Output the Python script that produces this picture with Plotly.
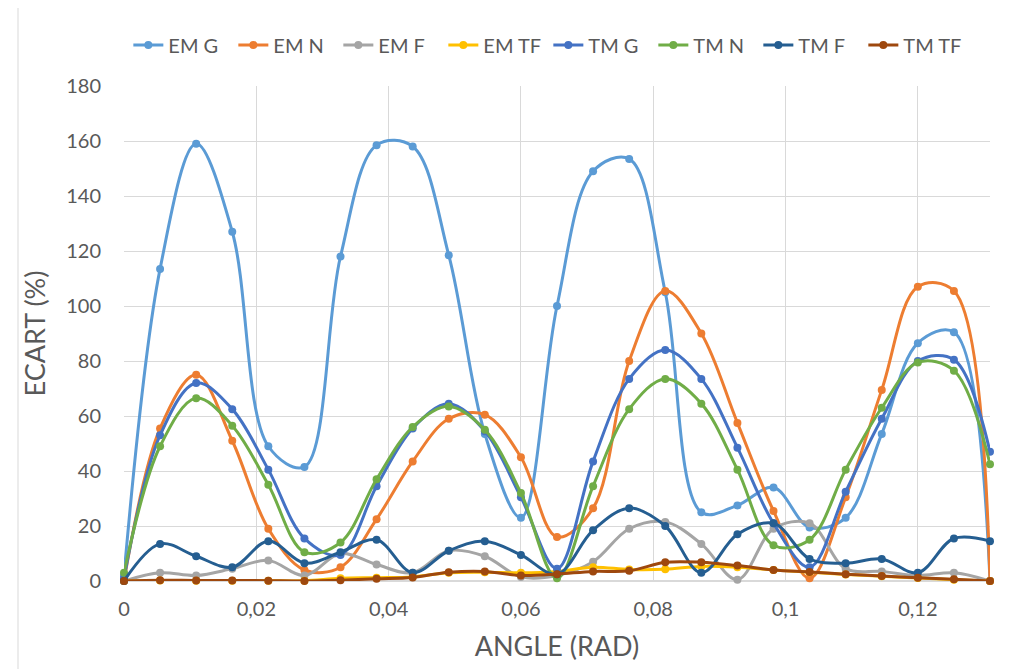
import numpy as np
import plotly.graph_objects as go

# angle points: 25 steps from 0 to pi/24
angle = np.linspace(0, np.pi / 24, 25)

em_g = [2, 113.5, 159, 127, 49, 41.5, 118, 158.5, 158, 118.5, 53.5, 23, 100, 149, 153.5,
        105, 25, 27.5, 34, 19.5, 23, 53.5, 86.5, 90.5, 0]
em_n = [0, 55.5, 75, 51, 19, 4, 5, 22.5, 43.5, 59, 60.5, 45, 16, 26.5, 80,
        105.5, 90, 57.5, 25.5, 1, 30.5, 69.5, 107, 105.5, 0]
em_f = [0, 3, 2, 4.5, 7.5, 2, 10, 6, 3, 11, 9, 1.5, 2, 7, 19,
        21.5, 13.5, 0.5, 19, 21, 4.5, 3.5, 2, 3, 0]
em_tf = [0, 0.2, 0.1, 0.1, 0.1, 0.1, 1, 1.2, 1.5, 3, 3.2, 3, 3.5, 5, 4.2,
         4.3, 5.3, 5, 4, 3.2, 2.4, 1.7, 1.1, 0.5, 0]
tm_g = [1, 53, 72, 62.5, 40.5, 15.5, 9.5, 34.5, 55.5, 64.5, 54.5, 30.5, 4.5, 43.5, 73.5,
        84, 73.5, 48.5, 21, 5, 32.5, 59, 80, 80.5, 47]
tm_n = [3, 49, 66.5, 56.5, 35, 10.5, 14, 37, 56, 63.5, 55, 32, 1, 34.5, 62.5,
        73.5, 64.5, 40.5, 13, 15, 40.5, 63, 79.5, 76.5, 42.5]
tm_f = [0, 13.5, 9, 5, 14.5, 6.5, 10.5, 15, 3, 11, 14.5, 9.5, 2.5, 18.5, 26.5,
        20, 3, 17, 21, 8, 6.5, 8, 3, 15.5, 14.5]
tm_tf = [0, 0.3, 0.2, 0.2, 0.1, 0, 0.3, 0.8, 1.3, 3.2, 3.5, 2, 2.5, 3.5, 3.7,
         6.8, 6.8, 5.6, 4, 3.3, 2.5, 1.8, 1.2, 0.6, 0]

series = [
    ("EM G", em_g, "#5B9BD5"),
    ("EM N", em_n, "#ED7D31"),
    ("EM F", em_f, "#A5A5A5"),
    ("EM TF", em_tf, "#FFC000"),
    ("TM G", tm_g, "#4472C4"),
    ("TM N", tm_n, "#70AD47"),
    ("TM F", tm_f, "#255E91"),
    ("TM TF", tm_tf, "#9E480E"),
]

x_ticks = [0, 0.02, 0.04, 0.06, 0.08, 0.1, 0.12]
x_tick_text = ["0", "0,02", "0,04", "0,06", "0,08", "0,1", "0,12"]

fig = go.Figure()
for name, vals, col in series:
    fig.add_trace(go.Scatter(
        x=angle, y=vals, name=name, mode="lines+markers",
        line=dict(color=col, width=3, shape="spline", smoothing=1),
        marker=dict(color=col, size=8),
        cliponaxis=False,
    ))

font = "Lato, 'Open Sans', sans-serif"
fig.update_layout(
    width=1015, height=669,
    margin=dict(l=116, r=33, t=78, b=96),
    plot_bgcolor="white",
    paper_bgcolor="white",
    font=dict(family=font, color="#595959", size=18),
    legend=dict(orientation="h", x=0.49, xanchor="center", y=1.083, yanchor="middle",
                font=dict(size=20, color="#595959"), traceorder="normal",
                entrywidth=60, entrywidthmode="pixels"),
    xaxis=dict(
        range=[0, np.pi / 24], tickvals=x_ticks, ticktext=x_tick_text,
        showgrid=True, gridcolor="#D9D9D9", gridwidth=1, zeroline=False, showline=False,
        tickfont=dict(size=20), ticklabelstandoff=14,
        title=dict(text="ANGLE (RAD)", font=dict(size=27), standoff=18),
    ),
    yaxis=dict(
        range=[0, 180], dtick=20,
        showgrid=True, gridcolor="#D9D9D9", gridwidth=1, zeroline=True, zerolinecolor="#D9D9D9",
        showline=False, tickfont=dict(size=20), ticklabelstandoff=22,
        title=dict(text="ECART (%)", font=dict(size=27), standoff=12),
    ),
    shapes=[dict(type="line", xref="paper", yref="paper", x0=(10 - 116) / 866, x1=(10 - 116) / 866,
                 y0=-1, y1=2, line=dict(color="#D9D9D9", width=1))],
)

fig.write_html("out.html")
